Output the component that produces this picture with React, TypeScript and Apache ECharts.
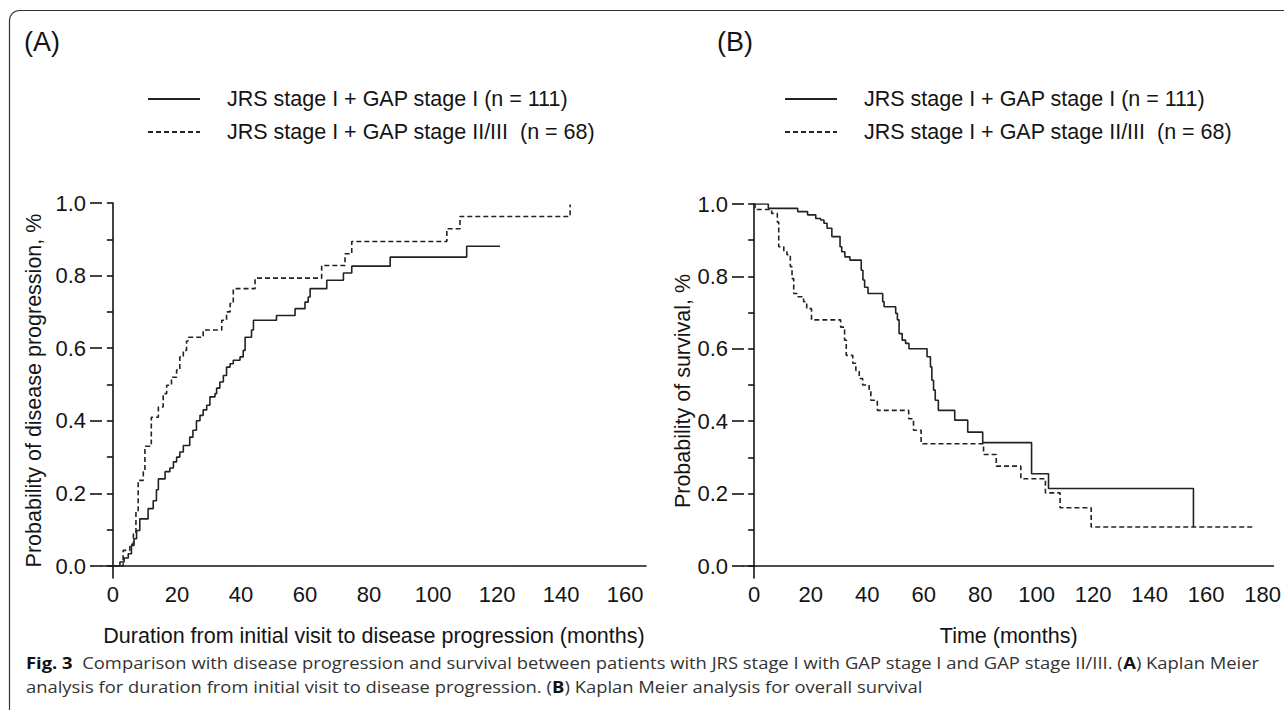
import React, { useEffect, useRef } from "react";
import * as echarts from "echarts";

const seriesNames = [
  "JRS stage I + GAP stage I (n = 111)",
  "JRS stage I + GAP stage II/III  (n = 68)",
];
const panelLabels = ["(A)", "(B)"];
const xNameA = "Duration from initial visit to disease progression (months)";
const xNameB = "Time (months)";
const yNameA = "Probability of disease progression, %";
const yNameB = "Probability of survival, %";
const xTicksA = [0, 20, 40, 60, 80, 100, 120, 140, 160];
const xTicksB = [0, 20, 40, 60, 80, 100, 120, 140, 160, 180];
const yTicksMajor = [0, 0.2, 0.4, 0.6, 0.8, 1.0];
const yTicksMinor = [0, 0.1, 0.2, 0.3, 0.4, 0.5, 0.6, 0.7, 0.8, 0.9, 1.0];

// Panel A: cumulative probability of disease progression [months, probability]
const progressionGap1: [number, number][] = [
  [0, 0], [2.2, 0.011], [3.5, 0.022], [4.8, 0.034], [5.8, 0.057], [6.6, 0.075],
  [7.4, 0.098], [8.4, 0.13], [11, 0.158], [12.6, 0.18], [13.6, 0.21], [14.2, 0.24],
  [16.3, 0.26], [17.8, 0.27], [18.9, 0.287], [19.9, 0.3], [20.9, 0.314], [22, 0.332],
  [24, 0.355], [25, 0.374], [26.1, 0.4], [27.2, 0.415], [28.2, 0.43], [29.3, 0.443],
  [30.3, 0.466], [31.9, 0.475], [32.4, 0.49], [33.4, 0.507], [34.5, 0.525], [35.5, 0.548],
  [36.6, 0.557], [37.6, 0.567], [39.7, 0.576], [40.7, 0.594], [41.3, 0.63], [43.3, 0.65],
  [43.9, 0.677], [51.1, 0.69], [56.9, 0.709], [60, 0.727], [61, 0.741], [61.6, 0.764],
  [66.8, 0.787], [72, 0.807], [74.6, 0.826], [86.6, 0.851], [110.5, 0.881], [120.9, 0.881],
];
const progressionGap23: [number, number][] = [
  [0, 0], [3.2, 0.043], [5.3, 0.06], [6.4, 0.089], [7.2, 0.15], [7.9, 0.236],
  [9.5, 0.26], [10, 0.33], [11.6, 0.337], [12, 0.41], [14.2, 0.438], [15.7, 0.475],
  [16.8, 0.498], [18.3, 0.52], [19.9, 0.54], [20.9, 0.576], [22, 0.594], [23, 0.62],
  [23.5, 0.63], [28.2, 0.65], [34, 0.677], [35.5, 0.7], [36.6, 0.723], [37.6, 0.764],
  [44.4, 0.793], [65.2, 0.828], [72.5, 0.86], [74.6, 0.894], [104.3, 0.929],
  [108.4, 0.963], [142.8, 0.996],
];

// Panel B: overall survival [months, probability]
const survivalGap1: [number, number][] = [
  [0, 1], [5, 0.988], [15.4, 0.979], [18.9, 0.97], [21.8, 0.96], [23.5, 0.956],
  [24.7, 0.947], [25.8, 0.933], [27.5, 0.91], [30.4, 0.882], [31, 0.868], [32.1, 0.854],
  [33.9, 0.845], [37.9, 0.817], [38.5, 0.79], [39.1, 0.77], [40.3, 0.753], [45.5, 0.73],
  [46, 0.716], [50.1, 0.698], [50.7, 0.68], [51.3, 0.642], [52.4, 0.624], [53.6, 0.615],
  [54.8, 0.6], [61.2, 0.578], [62.4, 0.55], [62.9, 0.513], [63.5, 0.486], [64.1, 0.458],
  [65.2, 0.43], [71, 0.403], [75.6, 0.37], [80.9, 0.341], [98.2, 0.255], [104.2, 0.214],
  [155.5, 0.108],
];
const survivalGap23: [number, number][] = [
  [0, 1], [0.3, 0.985], [6.2, 0.974], [8.2, 0.95], [8.7, 0.882], [10.5, 0.868],
  [11.6, 0.86], [12.8, 0.827], [13.4, 0.794], [14, 0.753], [15.1, 0.744], [17.5, 0.73],
  [18.6, 0.711], [20.3, 0.68], [30.6, 0.66], [32, 0.624], [32.6, 0.582], [34.9, 0.56],
  [36, 0.54], [37.2, 0.518], [38.4, 0.5], [40.7, 0.486], [41.3, 0.458], [43.6, 0.43],
  [54.7, 0.407], [56.4, 0.375], [59.1, 0.338], [81.2, 0.308], [85.7, 0.276],
  [94.4, 0.241], [103.1, 0.202], [108.3, 0.161], [119.3, 0.108], [177.3, 0.108],
];

const captionLine1 =
  "{b|Fig. 3}  Comparison with disease progression and survival between patients with JRS stage I with GAP stage I and GAP stage II/III. ({b|A}) Kaplan Meier";
const captionLine2 =
  "analysis for duration from initial visit to disease progression. ({b|B}) Kaplan Meier analysis for overall survival";

const FONT = "Liberation Sans, Arial, sans-serif";
const CAPTION_FONT = "Open Sans, Noto Sans, sans-serif";
const INK = "#141414";
const CURVE = "#222";

export default function App() {
  const ref = useRef<HTMLDivElement>(null);

  useEffect(() => {
    if (!ref.current) return;
    const chart = echarts.init(ref.current, undefined, { renderer: "svg" });

    const axisLine = { onZero: true, lineStyle: { color: INK, width: 1.6 } };
    const tickLabel = {
      fontSize: 22,
      color: INK,
      fontFamily: FONT,
      margin: 16,
    };
    const nameStyle = { fontSize: 21.5, color: INK, fontFamily: FONT };

    const mkX = (gridIndex: number, min: number, max: number, ticks: number[], name: string) => ({
      type: "value",
      gridIndex,
      min,
      max,
      name,
      nameLocation: "middle",
      nameGap: 47,
      nameMoveOverlap: false,
      nameTextStyle: nameStyle,
      axisLine,
      axisTick: { show: false },
      splitLine: { show: false },
      axisLabel: { ...tickLabel, margin: 5, customValues: ticks },
    });

    const mkY = (gridIndex: number, name: string, nameGap: number) => [
      {
        type: "value",
        gridIndex,
        position: "left",
        min: -0.033,
        max: 1,
        name,
        nameLocation: "middle",
        nameGap,
        nameMoveOverlap: false,
        nameTextStyle: nameStyle,
        axisLine,
        axisTick: {
          customValues: yTicksMinor,
          length: 6,
          lineStyle: { color: INK, width: 1.6 },
        },
        splitLine: { show: false },
        axisLabel: {
          ...tickLabel,
          customValues: yTicksMajor,
          formatter: (v: number) => v.toFixed(1),
        },
      },
      {
        type: "value",
        gridIndex,
        position: "left",
        min: -0.033,
        max: 1,
        axisLine: { show: false, onZero: true },
        axisTick: {
          customValues: yTicksMajor,
          length: 12,
          lineStyle: { color: INK, width: 1.6 },
        },
        splitLine: { show: false },
        axisLabel: { show: false },
      },
    ];

    const mkSeries = (
      name: string,
      data: [number, number][],
      xAxisIndex: number,
      yAxisIndex: number,
      dashed: boolean
    ) => ({
      type: "line",
      name,
      step: "end",
      data,
      xAxisIndex,
      yAxisIndex,
      symbol: "none",
      showSymbol: false,
      lineStyle: { color: CURVE, width: 1.6, type: dashed ? [5, 3] : "solid" },
      itemStyle: { color: CURVE },
      z: 5,
    });

    const mkLegend = (left: number) => ({
      left,
      top: 83,
      orient: "vertical",
      itemWidth: 52,
      itemHeight: 14,
      itemGap: 11,
      selectedMode: false,
      data: seriesNames,
      itemStyle: { opacity: 0, color: "transparent", borderWidth: 0 },
      textStyle: {
        fontSize: 21.5,
        color: INK,
        fontFamily: FONT,
        padding: [0, 0, 0, 22],
      },
    });

    const panelLabel = (text: string, x: number) => ({
      type: "text",
      x,
      y: 42,
      style: {
        text,
        fontSize: 27,
        fontFamily: FONT,
        fill: INK,
        verticalAlign: "middle",
      },
    });

    const caption = (text: string, y: number) => ({
      type: "text",
      x: 26,
      y,
      scaleX: 1.15,
      style: {
        text,
        fontSize: 16,
        fontFamily: CAPTION_FONT,
        fill: "#333",
        verticalAlign: "middle",
        rich: {
          b: { fontWeight: "bold", fill: "#111", fontSize: 16, fontFamily: CAPTION_FONT },
        },
      },
    });

    chart.setOption({
      animation: false,
      backgroundColor: "#fff",
      grid: [
        { left: 102, top: 203, width: 544, height: 375 },
        { left: 744, top: 204, width: 538, height: 374 },
      ],
      xAxis: [
        mkX(0, -3.4, 166.5, xTicksA, xNameA),
        mkX(1, -3.6, 183.8, xTicksB, xNameB),
      ],
      yAxis: [...mkY(0, yNameA, 57), ...mkY(1, yNameB, 50)],
      legend: [mkLegend(142), mkLegend(779)],
      series: [
        mkSeries(seriesNames[0], progressionGap1, 0, 0, false),
        mkSeries(seriesNames[1], progressionGap23, 0, 0, true),
        mkSeries(seriesNames[0], survivalGap1, 1, 2, false),
        mkSeries(seriesNames[1], survivalGap23, 1, 2, true),
      ],
      graphic: [
        {
          type: "rect",
          shape: { x: 9.5, y: 10.5, width: 1300, height: 740, r: [10, 0, 0, 0] },
          style: { fill: "none", stroke: "#333", lineWidth: 1.2 },
          silent: true,
        },
        panelLabel(panelLabels[0], 24),
        panelLabel(panelLabels[1], 717),
        caption(captionLine1, 663),
        caption(captionLine2, 687),
      ],
    });

    return () => chart.dispose();
  }, []);

  return (
    <div
      ref={ref}
      style={{ position: "fixed", left: 0, top: 0, width: 1284, height: 710, background: "#fff" }}
    />
  );
}
